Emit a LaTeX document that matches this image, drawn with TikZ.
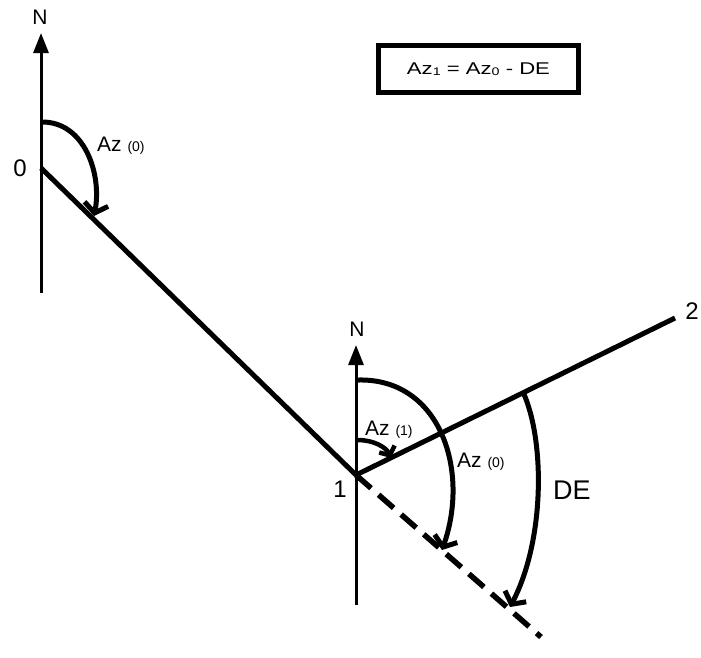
\documentclass[tikz,border=0pt]{standalone}
\usepackage{fontspec}
\setmainfont{Liberation Sans}
\usetikzlibrary{arrows.meta}
\begin{document}
\begin{tikzpicture}[x=1pt,y=-1pt,
  axis/.style={line width=3pt, -{Triangle[length=20pt,width=15pt]}},
  seg/.style={line width=5pt, line cap=butt},
  arcarrow/.style={line width=5pt, -{Straight Barb[length=9pt,width=24pt]}},
  smallarc/.style={line width=4.5pt, -{Straight Barb[length=7pt,width=17pt]}},
  lbl/.style={inner sep=0pt, anchor=base west},
  big/.style={font=\fontsize{21}{21}\selectfont},
  pt/.style={inner sep=0pt, font=\fontsize{24}{24}\selectfont},
  nlbl/.style={inner sep=0pt, font=\fontsize{21}{21}\selectfont}
]
\useasboundingbox (0,0) rectangle (701,657);

% key points
\coordinate (A0bot) at (41,293);
\coordinate (A0top) at (41,33);
\coordinate (O) at (41,168);
\coordinate (P1) at (356,475);
\coordinate (P2) at (675,318);
\coordinate (Dend) at (541,637);
\coordinate (A1bot) at (356,605);
\coordinate (A1top) at (356,345);

% north axes
\draw[axis] (A0bot) -- (A0top);
\draw[axis] (A1bot) -- (A1top);
\node[nlbl] (N0) at (40,17) {N};
\node[nlbl] (N1) at (357,329) {N};

% traverse lines
\draw[seg] (O) -- (P1);
\draw[seg] (P1) -- (P2);
\draw[seg, line width=5.5pt, dash pattern=on 20pt off 10pt] (P1) -- (Dend);

% station labels
\node[pt] (L0) at (20,168) {0};
\node[pt] (L1) at (340,489) {1};
\node[pt] (L2) at (692,311) {2};

% arcs
\coordinate (a0s) at (41,122);
\coordinate (a0e) at (94,216);
\draw[arcarrow] (a0s) .. controls (85,121) and (102,175) .. (a0e);

\coordinate (a1s) at (358,440);
\coordinate (a1e) at (391,458);
\draw[smallarc] (a1s) .. controls (373,440) and (386,447) .. (a1e);

\coordinate (b0s) at (358,380);
\coordinate (b0e) at (442,550);
\draw[arcarrow] (b0s) .. controls (440,378) and (470,470) .. (b0e);

\coordinate (des) at (523,392);
\coordinate (dee) at (510,607);
\draw[arcarrow] (des) .. controls (545,440) and (545,540) .. (dee);

% angle labels
\node[lbl, big] (T0) at (97,151) {Az {\fontsize{14}{14}\selectfont(0)}};
\node[lbl, big] (T1) at (365,435) {Az {\fontsize{14}{14}\selectfont(1)}};
\node[lbl, big] (T2) at (457,467) {Az {\fontsize{14}{14}\selectfont(0)}};
\node[lbl, font=\fontsize{27}{27}\selectfont] (TDE) at (553,499) {DE};

% formula box
\node[draw, line width=5pt, minimum width=200pt, minimum height=47pt, inner sep=0pt,
      font=\fontsize{17}{17}\selectfont] (eq) at (478.5,69)
  {\scalebox{1.3}[1]{Az\raisebox{-1pt}{\fontsize{11}{11}\selectfont 1} = Az\raisebox{-1pt}{\fontsize{11}{11}\selectfont 0} - DE}};
\end{tikzpicture}
\end{document}
